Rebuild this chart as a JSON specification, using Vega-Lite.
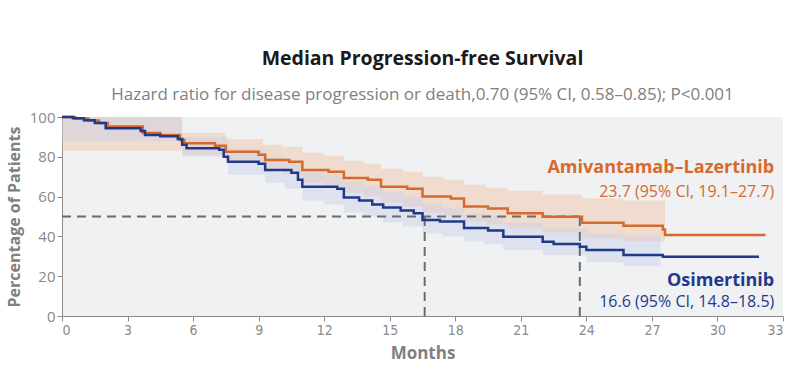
{
  "$schema": "https://vega.github.io/schema/vega-lite/v6.json",
  "autosize": {"type": "none"},
  "width": 721,
  "height": 199,
  "padding": {"left": 62, "top": 117, "right": 17, "bottom": 63},
  "background": "white",
  "title": {
    "text": "Median Progression-free Survival",
    "subtitle": "Hazard ratio for disease progression or death,0.70 (95% CI, 0.58–0.85); P<0.001",
    "anchor": "middle",
    "font": "Open Sans",
    "fontSize": 19.5,
    "fontWeight": "bold",
    "color": "#1a1a1a",
    "subtitleFont": "Open Sans",
    "subtitleFontSize": 17,
    "subtitleColor": "#808080",
    "subtitlePadding": 18,
    "offset": 6
  },
  "config": {
    "view": {"fill": "#eff1f2", "stroke": null},
    "axis": {
      "grid": false,
      "domainColor": "#8a8a8a",
      "tickColor": "#8a8a8a",
      "tickSize": 5,
      "labelColor": "#8a8a8a",
      "labelOverlap": false,
      "titleColor": "#808080",
      "titleFont": "Open Sans",
      "titleFontWeight": "bold",
      "titleFontSize": 17
    },
    "axisX": {"labelFont": "Liberation Sans Narrow, DejaVu Sans Condensed, sans-serif"},
    "axisY": {"labelFont": "Open Sans"}
  },
  "resolve": {"scale": {"color": "independent"}},
  "datasets": {
    "curves": [
      {"group": "Amivantamab–Lazertinib", "month": 0, "pct": 100},
      {"group": "Amivantamab–Lazertinib", "month": 0.6, "pct": 99.3},
      {"group": "Amivantamab–Lazertinib", "month": 1.2, "pct": 98.3},
      {"group": "Amivantamab–Lazertinib", "month": 1.7, "pct": 97},
      {"group": "Amivantamab–Lazertinib", "month": 2.1, "pct": 95.2},
      {"group": "Amivantamab–Lazertinib", "month": 3.7, "pct": 92},
      {"group": "Amivantamab–Lazertinib", "month": 4.5, "pct": 91},
      {"group": "Amivantamab–Lazertinib", "month": 5.4, "pct": 88.5},
      {"group": "Amivantamab–Lazertinib", "month": 5.6, "pct": 86.8},
      {"group": "Amivantamab–Lazertinib", "month": 7.0, "pct": 85.5},
      {"group": "Amivantamab–Lazertinib", "month": 7.5, "pct": 82.6},
      {"group": "Amivantamab–Lazertinib", "month": 9.0, "pct": 81},
      {"group": "Amivantamab–Lazertinib", "month": 9.3, "pct": 78.4},
      {"group": "Amivantamab–Lazertinib", "month": 10.4, "pct": 77.5},
      {"group": "Amivantamab–Lazertinib", "month": 11.0, "pct": 73.4},
      {"group": "Amivantamab–Lazertinib", "month": 12.2, "pct": 72.5},
      {"group": "Amivantamab–Lazertinib", "month": 12.9, "pct": 69.3},
      {"group": "Amivantamab–Lazertinib", "month": 14.0, "pct": 68.5},
      {"group": "Amivantamab–Lazertinib", "month": 14.6, "pct": 65},
      {"group": "Amivantamab–Lazertinib", "month": 15.8, "pct": 64},
      {"group": "Amivantamab–Lazertinib", "month": 16.5, "pct": 60},
      {"group": "Amivantamab–Lazertinib", "month": 17.8, "pct": 59},
      {"group": "Amivantamab–Lazertinib", "month": 18.4, "pct": 55},
      {"group": "Amivantamab–Lazertinib", "month": 19.5, "pct": 54},
      {"group": "Amivantamab–Lazertinib", "month": 20.4, "pct": 51.6},
      {"group": "Amivantamab–Lazertinib", "month": 22.0, "pct": 49.9},
      {"group": "Amivantamab–Lazertinib", "month": 23.8, "pct": 46.9},
      {"group": "Amivantamab–Lazertinib", "month": 25.7, "pct": 45.3},
      {"group": "Amivantamab–Lazertinib", "month": 27.5, "pct": 43.5},
      {"group": "Amivantamab–Lazertinib", "month": 27.6, "pct": 40.7},
      {"group": "Amivantamab–Lazertinib", "month": 32.2, "pct": 40.7},
      {"group": "Osimertinib", "month": 0, "pct": 100},
      {"group": "Osimertinib", "month": 0.5, "pct": 99.4},
      {"group": "Osimertinib", "month": 1.0, "pct": 98.4},
      {"group": "Osimertinib", "month": 1.5, "pct": 97},
      {"group": "Osimertinib", "month": 2.0, "pct": 94.3},
      {"group": "Osimertinib", "month": 3.6, "pct": 93},
      {"group": "Osimertinib", "month": 3.8, "pct": 91},
      {"group": "Osimertinib", "month": 4.5, "pct": 90.3},
      {"group": "Osimertinib", "month": 5.3, "pct": 89},
      {"group": "Osimertinib", "month": 5.5, "pct": 86},
      {"group": "Osimertinib", "month": 5.7, "pct": 84.3},
      {"group": "Osimertinib", "month": 7.2, "pct": 83.5},
      {"group": "Osimertinib", "month": 7.4, "pct": 80},
      {"group": "Osimertinib", "month": 7.6, "pct": 77.5},
      {"group": "Osimertinib", "month": 9.0, "pct": 76.5},
      {"group": "Osimertinib", "month": 9.3, "pct": 73.4},
      {"group": "Osimertinib", "month": 10.5, "pct": 72},
      {"group": "Osimertinib", "month": 10.8, "pct": 68.5},
      {"group": "Osimertinib", "month": 11.0, "pct": 65},
      {"group": "Osimertinib", "month": 12.6, "pct": 64},
      {"group": "Osimertinib", "month": 12.9, "pct": 59.5},
      {"group": "Osimertinib", "month": 13.6, "pct": 58},
      {"group": "Osimertinib", "month": 14.2, "pct": 56},
      {"group": "Osimertinib", "month": 14.7, "pct": 54.5},
      {"group": "Osimertinib", "month": 15.5, "pct": 53},
      {"group": "Osimertinib", "month": 16.1, "pct": 51.6},
      {"group": "Osimertinib", "month": 16.5, "pct": 48.3},
      {"group": "Osimertinib", "month": 17.3, "pct": 47.5},
      {"group": "Osimertinib", "month": 18.4, "pct": 44.2},
      {"group": "Osimertinib", "month": 19.5, "pct": 43},
      {"group": "Osimertinib", "month": 20.2, "pct": 39.8},
      {"group": "Osimertinib", "month": 22.0, "pct": 37.3},
      {"group": "Osimertinib", "month": 22.5, "pct": 36.2},
      {"group": "Osimertinib", "month": 23.7, "pct": 34.8},
      {"group": "Osimertinib", "month": 24.0, "pct": 33.2},
      {"group": "Osimertinib", "month": 25.7, "pct": 30.7},
      {"group": "Osimertinib", "month": 27.5, "pct": 29.8},
      {"group": "Osimertinib", "month": 31.9, "pct": 29.8}
    ],
    "bands": [
      {"group": "Amivantamab–Lazertinib", "month": 0, "lo": 83, "hi": 100},
      {"group": "Amivantamab–Lazertinib", "month": 5.5, "lo": 81, "hi": 92},
      {"group": "Amivantamab–Lazertinib", "month": 7.5, "lo": 77, "hi": 89},
      {"group": "Amivantamab–Lazertinib", "month": 9.2, "lo": 73, "hi": 86},
      {"group": "Amivantamab–Lazertinib", "month": 10.1, "lo": 71, "hi": 85},
      {"group": "Amivantamab–Lazertinib", "month": 11.0, "lo": 67, "hi": 82},
      {"group": "Amivantamab–Lazertinib", "month": 12.0, "lo": 65, "hi": 80.5},
      {"group": "Amivantamab–Lazertinib", "month": 12.9, "lo": 62, "hi": 78},
      {"group": "Amivantamab–Lazertinib", "month": 13.8, "lo": 60, "hi": 76.5},
      {"group": "Amivantamab–Lazertinib", "month": 14.6, "lo": 57, "hi": 74},
      {"group": "Amivantamab–Lazertinib", "month": 15.6, "lo": 55, "hi": 72.5},
      {"group": "Amivantamab–Lazertinib", "month": 16.5, "lo": 52, "hi": 70},
      {"group": "Amivantamab–Lazertinib", "month": 17.5, "lo": 50, "hi": 68.5},
      {"group": "Amivantamab–Lazertinib", "month": 18.4, "lo": 47.5, "hi": 66},
      {"group": "Amivantamab–Lazertinib", "month": 19.4, "lo": 46, "hi": 64.5},
      {"group": "Amivantamab–Lazertinib", "month": 20.4, "lo": 44, "hi": 63},
      {"group": "Amivantamab–Lazertinib", "month": 22.0, "lo": 42, "hi": 61},
      {"group": "Amivantamab–Lazertinib", "month": 23.8, "lo": 39, "hi": 59},
      {"group": "Amivantamab–Lazertinib", "month": 25.7, "lo": 37.5, "hi": 58},
      {"group": "Amivantamab–Lazertinib", "month": 27.6, "lo": 37.5, "hi": 58},
      {"group": "Osimertinib", "month": 0, "lo": 88, "hi": 100},
      {"group": "Osimertinib", "month": 5.5, "lo": 80, "hi": 90},
      {"group": "Osimertinib", "month": 7.6, "lo": 71, "hi": 84},
      {"group": "Osimertinib", "month": 9.3, "lo": 67, "hi": 80},
      {"group": "Osimertinib", "month": 10.2, "lo": 64, "hi": 78},
      {"group": "Osimertinib", "month": 11.0, "lo": 58, "hi": 73},
      {"group": "Osimertinib", "month": 12.0, "lo": 56, "hi": 71},
      {"group": "Osimertinib", "month": 12.9, "lo": 52, "hi": 67.5},
      {"group": "Osimertinib", "month": 13.8, "lo": 50, "hi": 65.5},
      {"group": "Osimertinib", "month": 14.7, "lo": 47, "hi": 62.5},
      {"group": "Osimertinib", "month": 15.6, "lo": 45, "hi": 60},
      {"group": "Osimertinib", "month": 16.5, "lo": 41.5, "hi": 56.5},
      {"group": "Osimertinib", "month": 17.4, "lo": 40, "hi": 54.5},
      {"group": "Osimertinib", "month": 18.4, "lo": 37.5, "hi": 51.5},
      {"group": "Osimertinib", "month": 19.3, "lo": 36, "hi": 50},
      {"group": "Osimertinib", "month": 20.2, "lo": 33, "hi": 47},
      {"group": "Osimertinib", "month": 22.0, "lo": 30.5, "hi": 44},
      {"group": "Osimertinib", "month": 24.0, "lo": 27, "hi": 41.5},
      {"group": "Osimertinib", "month": 25.7, "lo": 25, "hi": 40},
      {"group": "Osimertinib", "month": 27.4, "lo": 25, "hi": 40}
    ],
    "refs": [
      {"x": 0, "x2": 23.7, "y": 50, "y2": 50},
      {"x": 16.6, "x2": 16.6, "y": 0, "y2": 50},
      {"x": 23.7, "x2": 23.7, "y": 0, "y2": 50}
    ],
    "labels": [
      {"group": "Amivantamab–Lazertinib", "month": 32.6, "pct": 74.4, "label": "Amivantamab–Lazertinib", "kind": "name"},
      {"group": "Amivantamab–Lazertinib", "month": 32.6, "pct": 62.3, "label": "23.7 (95% CI, 19.1–27.7)", "kind": "ci"},
      {"group": "Osimertinib", "month": 32.6, "pct": 17.6, "label": "Osimertinib", "kind": "name"},
      {"group": "Osimertinib", "month": 32.6, "pct": 7.0, "label": "16.6 (95% CI, 14.8–18.5)", "kind": "ci"}
    ]
  },
  "layer": [
    {
      "data": {"name": "bands"},
      "mark": {"type": "area", "interpolate": "step-after", "opacity": 0.4},
      "encoding": {
        "x": {"field": "month", "type": "quantitative", "scale": {"domain": [0, 33], "nice": false},
              "axis": {"values": [0,3,6,9,12,15,18,21,24,27,30,33], "title": "Months", "labelFontSize": 14, "titlePadding": 8, "labelOverlap": false}},
        "y": {"field": "hi", "type": "quantitative", "scale": {"domain": [0, 100], "nice": false},
              "axis": {"values": [0,20,40,60,80,100], "tickCount": 6, "title": "Percentage of Patients", "titleFontSize": 16, "labelFontSize": 15, "titlePadding": 7, "labelOverlap": false, "labelBound": false}},
        "y2": {"field": "lo"},
        "fill": {"field": "group", "type": "nominal", "legend": null,
                  "scale": {"domain": ["Amivantamab–Lazertinib", "Osimertinib"], "range": ["#f1bd9b", "#c6cce8"]}}
      }
    },
    {
      "data": {"name": "refs"},
      "mark": {"type": "rule", "color": "#6b6b6b", "strokeWidth": 2, "strokeDash": [9, 6]},
      "encoding": {
        "x": {"field": "x", "type": "quantitative"},
        "x2": {"field": "x2"},
        "y": {"field": "y", "type": "quantitative"},
        "y2": {"field": "y2"}
      }
    },
    {
      "data": {"name": "curves"},
      "mark": {"type": "line", "interpolate": "step-after", "strokeWidth": 2.5},
      "encoding": {
        "x": {"field": "month", "type": "quantitative"},
        "y": {"field": "pct", "type": "quantitative"},
        "detail": {"field": "group"},
        "stroke": {"field": "group", "type": "nominal", "legend": null,
                   "scale": {"domain": ["Amivantamab–Lazertinib", "Osimertinib"], "range": ["#d8692c", "#1f3a8a"]}}
      }
    },
    {
      "data": {"name": "labels"},
      "transform": [{"filter": "datum.kind == 'name'"}],
      "mark": {"type": "text", "align": "right", "baseline": "middle", "font": "Open Sans", "fontWeight": "bold", "fontSize": 18},
      "encoding": {
        "x": {"field": "month", "type": "quantitative"},
        "y": {"field": "pct", "type": "quantitative"},
        "text": {"field": "label"},
        "color": {"field": "group", "type": "nominal", "legend": null,
                  "scale": {"domain": ["Amivantamab–Lazertinib", "Osimertinib"], "range": ["#d8692c", "#1f3a8a"]}}
      }
    },
    {
      "data": {"name": "labels"},
      "transform": [{"filter": "datum.kind == 'ci'"}],
      "mark": {"type": "text", "align": "right", "baseline": "middle", "font": "Open Sans", "fontSize": 16},
      "encoding": {
        "x": {"field": "month", "type": "quantitative"},
        "y": {"field": "pct", "type": "quantitative"},
        "text": {"field": "label"},
        "color": {"field": "group", "type": "nominal", "legend": null,
                  "scale": {"domain": ["Amivantamab–Lazertinib", "Osimertinib"], "range": ["#d8692c", "#1f3a8a"]}}
      }
    }
  ]
}
